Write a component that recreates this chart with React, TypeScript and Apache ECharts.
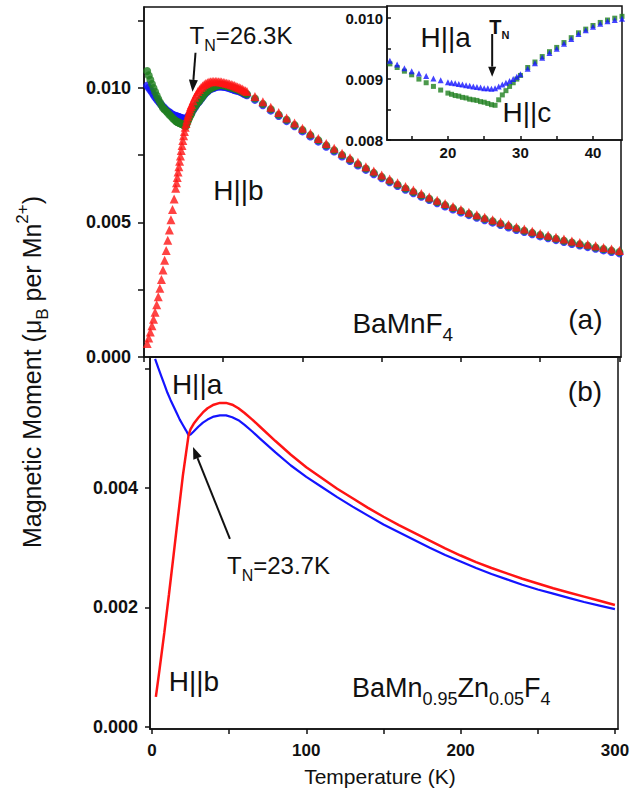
import React, { useEffect, useRef } from "react";
import * as echarts from "echarts";

const FONT = '"Liberation Sans", Arial, sans-serif';
const INK = "#111111";
const BLUE = "#1414ff";
const GREEN = "#1f7f1f";
const RED = "#ff1414";

// ---------- Panel (a): BaMnF4, temperatures (K) ----------
const tempsA = [
  2, 3, 4, 5, 6, 7, 8, 9, 10, 11, 12, 13, 14, 15, 16, 17, 18, 19,
  20, 20.5, 21, 21.5, 22, 22.5, 23, 23.5, 24, 24.5, 25, 25.5, 26, 26.5, 27, 27.5, 28, 28.5, 29, 29.5, 30,
  31, 32, 33, 34, 35, 36, 37, 38, 39, 40, 41, 42, 43, 44, 45, 46, 47, 48, 49, 50,
  51, 52, 53, 54, 55, 56, 57, 58, 59, 60, 61, 62, 63, 64, 65,
  70, 75, 80, 85, 90, 95, 100, 105, 110, 115, 120, 125, 130, 135, 140, 145, 150, 155, 160, 165,
  170, 175, 180, 185, 190, 195, 200, 205, 210, 215, 220, 225, 230, 235, 240, 245, 250, 255, 260,
  265, 270, 275, 280, 285, 290, 295, 300,
];

// H||a (blue circles)
const momentAHa = [
  0.01008, 0.01, 0.00992, 0.00983, 0.00974, 0.00965, 0.00957, 0.0095, 0.00943, 0.00936, 0.0093, 0.00924, 0.00918, 0.00913, 0.00909, 0.00905, 0.00901, 0.00898,
  0.00895, 0.00894, 0.00893, 0.00892, 0.00891, 0.0089, 0.00889, 0.00888, 0.00887, 0.00886, 0.00885, 0.00885, 0.00884, 0.00885, 0.00888, 0.00891, 0.00894, 0.00897, 0.009, 0.00904, 0.00908,
  0.00917, 0.00926, 0.00935, 0.00943, 0.0095, 0.00958, 0.00966, 0.00974, 0.0098, 0.00986, 0.00991, 0.00995, 0.00997, 0.00999, 0.01002, 0.01004, 0.01005, 0.01005, 0.01005, 0.01004,
  0.01003, 0.01002, 0.01, 0.00998, 0.00996, 0.00994, 0.00992, 0.0099, 0.00989, 0.00987, 0.00984, 0.00981, 0.00978, 0.00975, 0.00972,
  0.00955, 0.00935, 0.00915, 0.00895, 0.00876, 0.00857, 0.00838, 0.00819, 0.008, 0.00781, 0.00763, 0.00745, 0.00728, 0.00711, 0.00695, 0.00679, 0.00664, 0.00649, 0.00635, 0.00621,
  0.00608, 0.00595, 0.00583, 0.00571, 0.00559, 0.00548, 0.00537, 0.00527, 0.00517, 0.00508, 0.00499, 0.0049, 0.00481, 0.00472, 0.00464, 0.00456, 0.00448, 0.00441, 0.00434,
  0.00427, 0.0042, 0.00414, 0.00408, 0.00402, 0.00396, 0.0039, 0.00385,
];

// H||c (green circles)
const momentAHc = [
  0.01062, 0.01046, 0.0103, 0.01014, 0.00999, 0.00985, 0.00971, 0.00958, 0.00946, 0.00935, 0.00925, 0.00919, 0.00913, 0.00907, 0.009, 0.00894, 0.00888, 0.00882,
  0.00877, 0.00875, 0.00873, 0.00872, 0.0087, 0.00869, 0.00867, 0.00866, 0.00865, 0.00863, 0.00862, 0.0086, 0.00858, 0.00857, 0.00866, 0.00874, 0.00881, 0.00888, 0.00894, 0.009, 0.00906,
  0.00919, 0.00928, 0.00937, 0.00945, 0.00952, 0.0096, 0.00968, 0.00976, 0.00982, 0.00988, 0.00993, 0.00997, 0.01, 0.01003, 0.01006, 0.01008, 0.01009, 0.0101, 0.0101, 0.01009,
  0.01008, 0.01007, 0.01005, 0.01003, 0.01001, 0.00999, 0.00997, 0.00995, 0.00993, 0.00991, 0.00988, 0.00985, 0.00982, 0.00979, 0.00976,
  0.0096, 0.0094, 0.0092, 0.009, 0.00881, 0.00862, 0.00843, 0.00824, 0.00805, 0.00786, 0.00768, 0.0075, 0.00733, 0.00716, 0.007, 0.00684, 0.00669, 0.00654, 0.0064, 0.00626,
  0.00613, 0.006, 0.00588, 0.00576, 0.00564, 0.00553, 0.00542, 0.00532, 0.00522, 0.00513, 0.00504, 0.00495, 0.00486, 0.00477, 0.00469, 0.00461, 0.00453, 0.00446, 0.00439,
  0.00432, 0.00425, 0.00419, 0.00413, 0.00407, 0.00401, 0.00395, 0.0039,
];

// H||b (red triangles)
const momentAHb = [
  0.0005, 0.00071, 0.00093, 0.00116, 0.0014, 0.00166, 0.00194, 0.00224, 0.00255, 0.00288, 0.00323, 0.00359, 0.00396, 0.00434, 0.00472, 0.0051, 0.00548, 0.00587,
  0.00627, 0.00647, 0.00667, 0.00687, 0.00707, 0.00727, 0.00747, 0.00767, 0.00786, 0.00804, 0.00822, 0.00838, 0.00853, 0.00867, 0.0088, 0.00892, 0.00903, 0.00913, 0.00922, 0.0093, 0.00938,
  0.00952, 0.00965, 0.00976, 0.00986, 0.00994, 0.01001, 0.01007, 0.01012, 0.01016, 0.01019, 0.01021, 0.01022, 0.01023, 0.01023, 0.01023, 0.01023, 0.01022, 0.01022, 0.01021, 0.0102,
  0.01019, 0.01017, 0.01016, 0.01014, 0.01012, 0.0101, 0.01008, 0.01006, 0.01003, 0.01001, 0.00998, 0.00995, 0.00992, 0.00989, 0.00986,
  0.00968, 0.00948, 0.00928, 0.00908, 0.00888, 0.00869, 0.0085, 0.00831, 0.00812, 0.00793, 0.00775, 0.00757, 0.0074, 0.00723, 0.00707, 0.00691, 0.00676, 0.00661, 0.00647, 0.00633,
  0.0062, 0.00607, 0.00594, 0.00582, 0.0057, 0.00559, 0.00548, 0.00538, 0.00528, 0.00519, 0.0051, 0.00501, 0.00492, 0.00483, 0.00475, 0.00467, 0.00459, 0.00452, 0.00445,
  0.00438, 0.00431, 0.00425, 0.00419, 0.00413, 0.00407, 0.00401, 0.00396,
];

// ---------- Panel (b): BaMn0.95Zn0.05F4 ----------
const tempsBHb = [
  2.5, 5, 8, 11, 14, 17, 20, 23.7, 25, 27, 30, 33, 36, 40, 44, 48, 52, 56, 60, 65, 70, 80, 90, 100,
  110, 120, 130, 140, 150, 160, 170, 180, 190, 200, 210, 220, 230, 240, 250, 260, 270, 280, 290, 300,
];
const momentBHb = [
  0.0005, 0.00098, 0.00158, 0.00222, 0.00288, 0.00355, 0.00421, 0.00489, 0.00499, 0.00508, 0.00518, 0.00527, 0.00534, 0.0054, 0.00543, 0.00543, 0.0054, 0.00534, 0.00526, 0.00515, 0.00503, 0.00479, 0.00456, 0.00435,
  0.00417, 0.00399, 0.00383, 0.00367, 0.00352, 0.00338, 0.00325, 0.00312, 0.00299, 0.00287, 0.00276, 0.00266, 0.00257, 0.00248, 0.0024, 0.00232, 0.00225, 0.00218, 0.00211, 0.00204,
];
const tempsBHa = [
  2, 4, 6, 8, 10, 12, 14, 16, 18, 20, 22, 23.7, 25, 27, 30, 33, 36, 40, 44, 48, 52, 56, 60, 65, 70, 80, 90, 100,
  110, 120, 130, 140, 150, 160, 170, 180, 190, 200, 210, 220, 230, 240, 250, 260, 270, 280, 290, 300,
];
const momentBHa = [
  0.00617, 0.00602, 0.00588, 0.00574, 0.0056, 0.00548, 0.00537, 0.00526, 0.00515, 0.00506, 0.00497, 0.00489, 0.0049, 0.00495, 0.00503, 0.0051, 0.00515, 0.0052, 0.00522, 0.00522, 0.00519, 0.00514, 0.00506, 0.00495, 0.00483, 0.0046, 0.00438, 0.00419,
  0.00402, 0.00385, 0.00369, 0.00354, 0.00339, 0.00326, 0.00313, 0.003, 0.00288, 0.00277, 0.00266, 0.00256, 0.00247, 0.00238, 0.0023, 0.00223, 0.00216, 0.00209, 0.00203, 0.00197,
];

// ---------- Ticks and labels ----------
const xTicksA = [0, 50, 100, 150, 200, 250, 300];
const yTicksA = [0, 0.0025, 0.005, 0.0075, 0.01, 0.0125];
const yLabelsA = [0, 0.005, 0.01];
const xTicksB = [0, 50, 100, 150, 200, 250, 300];
const xLabelsB = [0, 100, 200, 300];
const yTicksB = [0, 0.002, 0.004, 0.006];
const yLabelsB = [0, 0.002, 0.004];
const xTicksInset = [15, 20, 25, 30, 35, 40];
const xLabelsInset = [20, 30, 40];
const yTicksInset = [0.008, 0.0085, 0.009, 0.0095, 0.01];
const yLabelsInset = [0.008, 0.009, 0.01];

const zip = (xs: number[], ys: number[]) => xs.map((x, i) => [x, ys[i]]);

const lineStyle = { color: INK, width: 1.5 };

function valueAxis(extra: any) {
  return {
    type: "value",
    axisLine: { show: true, onZero: false, lineStyle },
    splitLine: { show: false },
    ...extra,
  };
}

export default function App() {
  const ref = useRef<HTMLDivElement>(null);

  useEffect(() => {
    if (!ref.current) return;
    const chart = echarts.init(ref.current, undefined, { renderer: "svg" });

    const boldLabel = (size: number, margin: number, custom: number[], fmt: (v: number) => string) => ({
      show: true,
      customValues: custom,
      fontSize: size,
      fontWeight: "bold",
      fontFamily: FONT,
      color: INK,
      margin,
      formatter: fmt,
    });

    const option: any = {
      animation: false,
      backgroundColor: "#ffffff",
      grid: [
        { left: 144, top: 7, width: 477, height: 350, show: true, borderColor: INK, borderWidth: 1.5, backgroundColor: "transparent" },
        { left: 150, top: 357, width: 468, height: 372, show: true, borderColor: INK, borderWidth: 1.5, backgroundColor: "transparent" },
        { left: 387, top: 6, width: 235, height: 134, show: true, borderColor: INK, borderWidth: 1.5, backgroundColor: "#ffffff" },
      ],
      xAxis: [
        valueAxis({
          gridIndex: 0, min: 0, max: 301,
          axisTick: { show: true, customValues: xTicksA, length: 5, lineStyle },
          axisLabel: { show: false },
        }),
        valueAxis({
          gridIndex: 1, min: -1.3, max: 302,
          axisTick: { show: true, customValues: xTicksB, length: 5, lineStyle },
          axisLabel: boldLabel(17, 13, xLabelsB, (v: number) => String(Math.round(v))),
        }),
        valueAxis({
          gridIndex: 2, min: 11.6, max: 44,
          axisTick: { show: true, inside: true, customValues: xTicksInset, length: 4, lineStyle },
          axisLabel: boldLabel(15, 5, xLabelsInset, (v: number) => String(Math.round(v))),
        }),
      ],
      yAxis: [
        valueAxis({
          gridIndex: 0, min: 0, max: 0.013,
          axisTick: { show: true, customValues: yTicksA, length: 6, lineStyle },
          axisLabel: boldLabel(18, 13, yLabelsA, (v: number) => v.toFixed(3)),
        }),
        valueAxis({
          gridIndex: 1, min: -0.00004, max: 0.0062,
          axisTick: { show: true, customValues: yTicksB, length: 5, lineStyle },
          axisLabel: boldLabel(18, 12, yLabelsB, (v: number) => v.toFixed(3)),
        }),
        valueAxis({
          gridIndex: 2, min: 0.008, max: 0.0102,
          axisTick: { show: true, inside: true, customValues: yTicksInset, length: 4, lineStyle },
          axisLabel: boldLabel(15, 4, yLabelsInset, (v: number) => v.toFixed(3)),
        }),
      ],
      series: [
        { type: "scatter", name: "H||a", xAxisIndex: 0, yAxisIndex: 0, data: zip(tempsA, momentAHa), symbol: "circle", symbolSize: 8, itemStyle: { color: BLUE }, silent: true, clip: true },
        { type: "scatter", name: "H||c", xAxisIndex: 0, yAxisIndex: 0, data: zip(tempsA, momentAHc), symbol: "circle", symbolSize: 8, itemStyle: { color: GREEN }, silent: true, clip: true },
        { type: "scatter", name: "H||b", xAxisIndex: 0, yAxisIndex: 0, data: zip(tempsA, momentAHb), symbol: "triangle", symbolSize: 9, itemStyle: { color: RED }, silent: true, clip: true },
        { type: "line", name: "Zn H||a", xAxisIndex: 1, yAxisIndex: 1, data: zip(tempsBHa, momentBHa), showSymbol: false, symbol: "none", lineStyle: { color: BLUE, width: 2.2 }, silent: true, clip: true },
        { type: "line", name: "Zn H||b", xAxisIndex: 1, yAxisIndex: 1, data: zip(tempsBHb, momentBHb), showSymbol: false, symbol: "none", lineStyle: { color: RED, width: 2.5 }, silent: true, clip: true },
        { type: "scatter", name: "inset H||c", xAxisIndex: 2, yAxisIndex: 2, data: zip(tempsA, momentAHc), symbol: "rect", symbolSize: 5, itemStyle: { color: GREEN }, silent: true, clip: true, z: 5 },
        { type: "scatter", name: "inset H||a", xAxisIndex: 2, yAxisIndex: 2, data: zip(tempsA, momentAHa), symbol: "triangle", symbolSize: 6, itemStyle: { color: BLUE }, silent: true, clip: true, z: 5 },
      ],
    };

    chart.setOption(option);

    const px = (g: number, x: number, y: number) => chart.convertToPixel({ gridIndex: g } as any, [x, y]) as number[];

    const text = (p: number[], content: string, size: number, align = "center", rich?: any) => ({
      type: "text",
      x: p[0],
      y: p[1],
      z: 100,
      style: {
        text: content,
        fontSize: size,
        fontFamily: FONT,
        fill: INK,
        align,
        verticalAlign: "middle",
        textAlign: align,
        textVerticalAlign: "middle",
        rich,
      },
    });

    // main text + lowered subscript (line height chosen so the subscript sits below the baseline)
    const subRich = (main: number, sub: number, weight = "normal") => {
      const drop = 0.4 * main;
      const lh = Math.round(2 * (drop + sub / 2));
      return {
        m: { fontSize: main, fontFamily: FONT, fontWeight: weight, fill: INK, lineHeight: lh },
        s: { fontSize: sub, fontFamily: FONT, fontWeight: weight, fill: INK, lineHeight: sub, verticalAlign: "bottom" },
      };
    };

    const arrow = (a: number[], b: number[], head = 12, half = 4.5) => {
      const dx = b[0] - a[0];
      const dy = b[1] - a[1];
      const len = Math.hypot(dx, dy);
      const ux = dx / len;
      const uy = dy / len;
      const bx = b[0] - ux * head;
      const by = b[1] - uy * head;
      return [
        { type: "line", z: 100, shape: { x1: a[0], y1: a[1], x2: bx, y2: by }, style: { stroke: INK, lineWidth: 2 } },
        {
          type: "polygon", z: 100,
          shape: { points: [[b[0], b[1]], [bx - uy * half, by + ux * half], [bx + uy * half, by - ux * half]] },
          style: { fill: INK },
        },
      ];
    };

    const graphics: any[] = [
      // Panel (a)
      text(px(0, 28.7, 0.01193), "{m|T}{s|N}{m|=26.3K}", 24, "left", subRich(24, 16)),
      ...arrow(px(0, 32.5, 0.0113), px(0, 30.6, 0.00985)),
      text(px(0, 59.6, 0.00617), "H||b", 28),
      text(px(0, 131.5, 0.00125), "{m|BaMnF}{s|4}", 28, "left", subRich(28, 19)),
      text(px(0, 278.5, 0.00138), "(a)", 28),
      // Inset
      text(px(2, 19.7, 0.00969), "H||a", 28),
      text(px(2, 27.1, 0.00986), "{m|T}{s|N}", 20, "center", subRich(20, 11, "bold")),
      ...arrow(px(2, 26.1, 0.00974), px(2, 26.1, 0.00904), 10, 4),
      text(px(2, 30.9, 0.00845), "H||c", 28),
      // Panel (b)
      text(px(1, 280.6, 0.00562), "(b)", 28),
      text(px(1, 29.2, 0.00574), "H||a", 28),
      text(px(1, 48.6, 0.0027), "{m|T}{s|N}{m|=23.7K}", 24, "left", subRich(24, 16)),
      ...arrow(px(1, 50.5, 0.00315), px(1, 26.6, 0.00469)),
      text(px(1, 27.2, 0.00075), "H||b", 28),
      text(px(1, 129.6, 0.00065), "{m|BaMn}{s|0.95}{m|Zn}{s|0.05}{m|F}{s|4}", 27, "left", subRich(27, 18)),
      // Axis titles
      { type: "text", x: 380, y: 776, z: 100, style: { text: "Temperature (K)", fontSize: 21, fontFamily: FONT, fill: INK, align: "center", verticalAlign: "middle", textAlign: "center", textVerticalAlign: "middle" } },
      {
        type: "text", x: 32, y: 372, rotation: Math.PI / 2, z: 100,
        style: {
          text: "{m|Magnetic Moment (μ}{s|B}{m| per Mn}{u|2+}{m|)}",
          fontSize: 25, fontFamily: FONT, fill: INK,
          align: "center", verticalAlign: "middle", textAlign: "center", textVerticalAlign: "middle",
          rich: {
            m: { fontSize: 25, fontFamily: FONT, fill: INK, lineHeight: 37 },
            s: { fontSize: 17, fontFamily: FONT, fill: INK, lineHeight: 17, verticalAlign: "bottom" },
            u: { fontSize: 17, fontFamily: FONT, fill: INK, lineHeight: 17, verticalAlign: "top" },
          },
        },
      },
    ];

    chart.setOption({ graphic: graphics });

    return () => chart.dispose();
  }, []);

  return (
    <div
      ref={ref}
      style={{ position: "fixed", left: 0, top: 0, width: 643, height: 794, background: "#ffffff" }}
    />
  );
}
